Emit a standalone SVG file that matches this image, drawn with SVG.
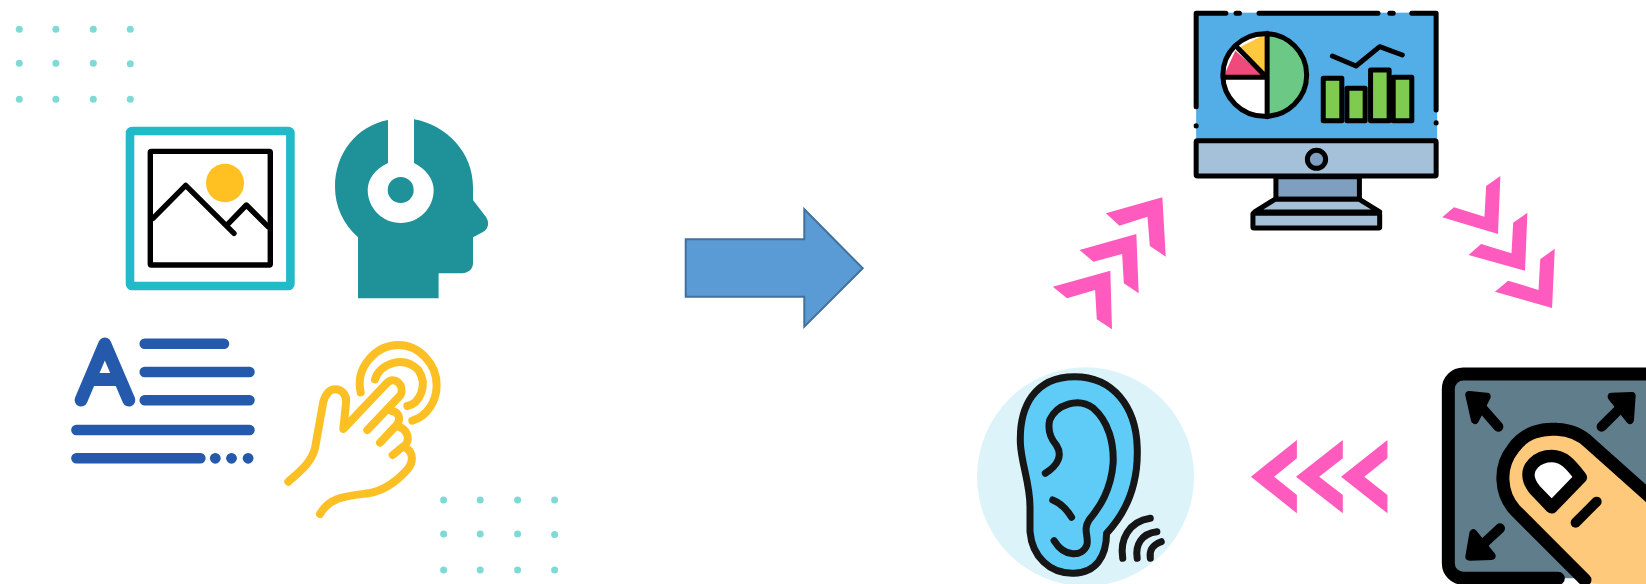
<svg xmlns="http://www.w3.org/2000/svg" width="1646" height="584" viewBox="0 0 1646 584">
<style>
.dot{fill:#7FDAD6}
.chev{fill:#FF5ABD}
.blk{fill:none;stroke:#000;stroke-linecap:round;stroke-linejoin:round;vector-effect:non-scaling-stroke}
.ear{fill:none;stroke:#141414;stroke-width:7;stroke-linecap:round;stroke-linejoin:round;vector-effect:non-scaling-stroke}
.bar{fill:none;stroke:#2459AC;stroke-width:10.500;stroke-linecap:round}
.hand{fill:none;stroke:#FCC024;stroke-width:24;stroke-linecap:round;stroke-linejoin:round}
.ms{stroke:#000;stroke-width:5;stroke-linejoin:round;vector-effect:non-scaling-stroke}
</style>
<defs>
<filter id="soft" x="-5%" y="-5%" width="110%" height="110%"><feGaussianBlur stdDeviation="0.6"/></filter>
<g id="dots">
<circle class="dot" cx="0" cy="0" r="3.500"/><circle class="dot" cx="36.600" cy="0" r="3.500"/><circle class="dot" cx="74" cy="0" r="3.500"/><circle class="dot" cx="111" cy="0" r="3.500"/>
<circle class="dot" cx="0" cy="34" r="3.500"/><circle class="dot" cx="36.600" cy="34" r="3.500"/><circle class="dot" cx="74" cy="34" r="3.500"/><circle class="dot" cx="111" cy="34.500" r="3.500"/>
<circle class="dot" cx="0" cy="70" r="3.500"/><circle class="dot" cx="36.600" cy="70" r="3.500"/><circle class="dot" cx="74" cy="70" r="3.500"/><circle class="dot" cx="111" cy="70" r="3.500"/>
</g>
</defs>
<rect width="1646" height="584" fill="#fff"/>
<g id="dots-top"><use href="#dots" x="19.300" y="29.300"/></g>
<g id="dots-bottom"><use href="#dots" x="443.600" y="500"/></g>

<g id="node-image">
<rect x="130" y="131" width="160.400" height="155" rx="2" fill="#fff" stroke="#22B9C8" stroke-width="8.600"/>
<rect x="150.300" y="151.400" width="120" height="113.600" rx="1" fill="#fff" stroke="#000" stroke-width="5.400"/>
<ellipse cx="225" cy="183" rx="19" ry="19.300" fill="#FFC022"/>
<path d="M153 218.300L185.700 185.300L234 233.300M228.600 223.300L246.400 205L268 226.700" fill="none" stroke="#000" stroke-width="5.400" stroke-linejoin="round" stroke-linecap="round"/>
</g>

<g id="node-headset">
<path d="M358 298.300V237.300C343 224 335 206 335 187C335 153 357 126 388 120V163C375 169 367.700 179 367.700 190C367.700 208 382.500 223 400.700 223C419 223 433.700 208 433.700 190C433.700 179 426 169 414 163V119.300C447 125 473 153 473 187V200L486 217C490 223 488 229 483 232L473 237.300V263C473 269 468 273.300 462 273.300H438.600V298.300Z" fill="#1F9199"/>
<circle cx="400.700" cy="190" r="13" fill="#1F9199"/>
</g>

<g id="node-text">
<path d="M81.100 400L104.800 344L128.800 400M93 379.500H117" fill="none" stroke="#2459AC" stroke-width="13" stroke-linecap="round" stroke-linejoin="round"/>
<path class="bar" d="M144.700 343.700H224M144.700 372H249.500M144.700 400.300H249.500M76.400 430H249.500M76.400 458.300H200.400"/>
<circle cx="215.300" cy="458.300" r="5.400" fill="#2459AC"/><circle cx="231.500" cy="458.300" r="5.400" fill="#2459AC"/><circle cx="248.100" cy="458.300" r="5.400" fill="#2459AC"/>
</g>

<g id="node-touch" transform="translate(270 330) scale(.3333)">
<path class="hand" d="M55 455C95 420 125 395 135 355L160 215C168 190 180 178 195 178C215 178 232 195 228 220L220 297L350 160C372 135 405 165 392 195L292 300"/>
<path class="hand" d="M365 243C385 245 395 265 380 285L330 338M385 290C415 300 420 330 405 345L368 375M410 355C430 370 430 395 415 415C385 450 350 480 295 490C230 498 180 500 150 552"/>
<path class="hand" d="M315 148C330 100 400 75 445 120C475 165 450 220 412 228"/>
<path class="hand" d="M272 187C255 110 320 45 385 45C450 45 500 105 500 165C500 215 470 260 427 272"/>
</g>

<g id="node-monitor" transform="translate(1040 0) scale(.338 .3333)" filter="url(#soft)">
<rect x="462" y="38" width="713" height="382" fill="#52ADE6"/>
<path class="blk" stroke-width="5" d="M462 320V40H550M580 40H590M648 40H1000M1035 40H1045M1100 40H1172V330M462 377V378M1172 368V369"/>
<rect class="ms" x="462" y="422" width="710" height="106" rx="4" fill="#A5C0D9"/>
<circle class="ms" cx="818" cy="478" r="27" fill="#7E9FBF"/>
<rect class="ms" x="698" y="530" width="247" height="68" fill="#7E9FBF"/>
<path class="ms" d="M635 636L695 598H945L1005 636Z" fill="#A5C0D9"/>
<rect class="ms" x="630" y="640" width="375" height="44" rx="3" fill="#A5C0D9"/>
<circle cx="665" cy="225" r="124" fill="#fff"/>
<path d="M672 100A124 124 0 0 1 672 350Z" fill="#6CC985"/>
<path d="M666 103L586 145L666 232Z" fill="#FFC83D"/>
<path d="M578 152L542 232H666Z" fill="#F0487C"/>
<circle class="blk" cx="665" cy="225" r="124" stroke-width="5"/>
<path class="blk" stroke-width="5" d="M672 100V350M670 232H542M670 232L586 145"/>
<g fill="#7ECB4F">
<rect class="ms" x="838" y="235" width="55" height="127"/><rect class="ms" x="908" y="265" width="54" height="97"/><rect class="ms" x="978" y="210" width="55" height="152"/><rect class="ms" x="1045" y="232" width="55" height="130"/>
</g>
<path class="blk" stroke-width="5" d="M865 168L935 198L1005 140L1072 165"/>
</g>

<g id="node-ear" transform="translate(960 350) scale(.4375 .3333)" filter="url(#soft)">
<ellipse cx="287" cy="380" rx="248" ry="328" fill="#DCF3FA"/>
<path d="M262 80C170 80 135 170 138 280C140 340 160 400 160 470V545C165 620 205 672 260 670C310 668 335 620 335 550C385 480 408 390 405 290C402 170 350 80 262 80Z" fill="#5FCBF7"/>
<path class="ear" d="M262 80C170 80 135 170 138 280C140 340 160 400 160 470V545C165 620 205 672 260 670C310 668 335 620 335 550C385 480 408 390 405 290C402 170 350 80 262 80Z"/>
<path class="ear" d="M195 370C225 345 235 315 220 285C205 262 200 240 205 210C220 165 270 140 305 175C340 215 352 280 350 340C345 420 320 470 295 510C280 540 295 560 290 585C280 620 240 625 215 572"/>
<path class="ear" d="M212 450C232 460 245 480 255 502"/>
<path class="ear" d="M372 625C365 570 385 515 435 505M405 625C400 585 415 550 450 545M435 625C432 600 440 585 460 575"/>
</g>

<g id="node-gesture" transform="translate(1430 360) scale(.3333)" filter="url(#soft)">
<rect x="55" y="42" width="640" height="613" rx="45" fill="#607D8B"/>
<path class="blk" stroke-width="13" d="M385 655H100C75 655 55 635 55 610V87C55 62 75 42 100 42H700"/>
<path d="M118 105L170 110L135 180Z M605 108L545 110L600 180Z M118 590L185 588L130 520Z" fill="#000" stroke="#000" stroke-width="24" stroke-linejoin="round"/>
<path class="blk" stroke-width="10" d="M135 120L205 200M590 125L515 200M135 575L210 505"/>
<path d="M465 670L255 450C210 400 205 320 250 265C285 215 340 205 380 208C420 210 455 225 480 250L670 420V680Z" fill="#FFC97B"/>
<path class="blk" stroke-width="13" d="M465 660L255 450C210 400 205 320 250 265C285 215 340 205 380 208C420 210 455 225 480 250L670 420"/>
<path class="blk" stroke-width="12.500" style="fill:#fff" d="M365 288C400 288 420 310 452 352L365 442L315 390C290 360 290 330 310 310C325 295 345 288 365 288Z"/>
<path class="blk" stroke-width="10" d="M437 488L500 425"/>
</g>

<g id="connectors">
<polygon points="685.700,239.300 804.300,239.300 804.300,209.300 862.700,268.300 804.300,326.700 804.300,296.700 685.700,296.700" fill="#5B9BD5" stroke="#41719C" stroke-width="2"/>
<g transform="translate(1040 0) scale(.338 .3333)">
<polygon class="chev" points="195,640 362,592 372,770 325,738 318,650 235,677"/>
<polygon class="chev" points="117,750 285,702 292,880 248,850 243,762 158,785"/>
<polygon class="chev" points="38,860 208,812 213,988 168,958 163,870 80,895"/>
<polygon class="chev" points="1362,528 1355,702 1190,652 1225,622 1315,650 1320,558"/>
<polygon class="chev" points="1442,638 1435,812 1268,765 1305,732 1395,760 1400,668"/>
<polygon class="chev" points="1523,746 1515,924 1346,875 1385,842 1475,870 1480,778"/>
</g>
<g transform="translate(960 350) scale(.4375 .3333)">
<polygon class="chev" points="665,380 770,270 770,325 718,380 770,435 770,490"/>
<polygon class="chev" points="768,380 875,270 875,325 821,380 875,435 875,490"/>
<polygon class="chev" points="871,380 977,270 977,325 924,380 977,435 977,490"/>
</g>
</g>
</svg>
